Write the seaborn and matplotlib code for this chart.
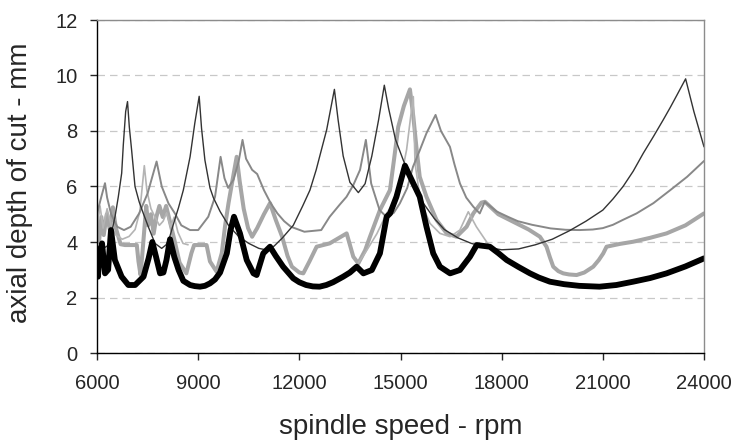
import numpy as np
import pandas as pd
import matplotlib
matplotlib.use("Agg")
import matplotlib.pyplot as plt
import seaborn as sns

sns.set_style('ticks')
plt.rcParams['font.family'] = ['Liberation Sans', 'DejaVu Sans']

# %%
# curve data (spindle speed rpm, axial depth mm)
dark_rpm = [6000, 6150, 6300, 6385, 6534, 6632, 6732, 6780, 6850, 6905, 6958, 7026, 7127, 7250, 7373, 7521,
            7720, 7918, 8050, 8160, 8280, 8420, 8560, 8760, 8900, 9030, 9100, 9200, 9350, 9450, 9650,
            9900, 10200, 10500, 10800, 11000, 11250, 11500, 11820, 12100, 12315, 12500, 12650, 12810,
            13040, 13150, 13300, 13500, 13750, 13950, 14150, 14350, 14520, 14650, 14850, 15082, 15400,
            15675, 16000, 16300, 16700, 17100, 17500, 18000, 18500, 19000, 19500, 20000, 20500, 21000,
            21300, 21600, 21900, 22200, 22500, 22790, 23000, 23200, 23455, 23700, 24000]
dark_depth = [3.85, 3.75, 3.85, 4.07, 4.91, 5.63, 6.48, 7.5, 8.7, 9.06, 8.15, 7.32, 6.0, 5.45, 5.03, 4.55,
              3.95, 3.77, 3.9, 4.2, 4.7, 5.25, 5.87, 7.07, 8.28, 9.25, 8.1, 6.95, 5.95, 5.6, 5.1,
              4.6, 4.2, 3.95, 3.77, 3.72, 3.85, 4.15, 4.6, 5.3, 5.87, 6.6, 7.3, 8.04,
              9.5, 8.4, 7.1, 6.15, 5.78, 6.1, 7.1, 8.4, 9.65, 8.8, 7.7, 6.95, 6.1,
              5.4, 4.85, 4.45, 4.15, 3.95, 3.82, 3.72, 3.75, 3.9, 4.1, 4.4, 4.75, 5.15,
              5.55, 6.0, 6.55, 7.2, 7.8, 8.4, 8.85, 9.3, 9.88, 8.7, 7.43]

mid_rpm = [6000, 6100, 6237, 6300, 6420, 6600, 6800, 7000, 7250, 7500, 7767, 7920, 8120, 8310, 8500, 8760,
           9000, 9300, 9500, 9665, 9780, 9890, 10050, 10200, 10315, 10420, 10600, 10750, 10950, 11150,
           11350, 11550, 11750, 12150, 12650, 12900, 13200, 13400, 13600, 13800, 13973, 14130, 14380,
           14580, 14800, 14980, 15200, 15370, 15570, 15770, 16040, 16200, 16466, 16600, 16763, 16950,
           17160, 17350, 17500, 17850, 18200, 18480, 18900, 19450, 19900, 20300, 20700, 21000, 21300,
           21600, 22000, 22500, 23000, 23500, 24000]
mid_depth = [5.0, 5.5, 6.12, 5.6, 5.0, 4.55, 4.43, 4.55, 5.03, 5.75, 6.9, 6.0, 5.39, 5.03, 4.6, 4.43,
             4.43, 4.91, 5.63, 7.07, 6.3, 5.95, 6.25, 6.9, 7.68, 7.0, 6.6, 6.45, 5.87, 5.4,
             5.03, 4.75, 4.55, 4.37, 4.43, 4.91, 5.35, 5.63, 6.05, 6.6, 7.68, 6.11, 5.15,
             4.91, 5.05, 5.39, 5.95, 6.71, 7.3, 7.92, 8.58, 8.0, 7.43, 6.8, 6.11, 5.6,
             5.27, 5.03, 5.45, 5.1, 4.9, 4.75, 4.62, 4.49, 4.44, 4.43, 4.45, 4.5, 4.62,
             4.8, 5.03, 5.4, 5.87, 6.35, 6.92]

light_rpm = [6000, 6060, 6130, 6200, 6290, 6380, 6470, 6560, 6700, 6830, 7180, 7230, 7290, 7340, 7400,
             7460, 7520, 7600, 7680, 7760, 7850, 7950, 8050, 8150, 8300, 8450, 8650, 8800, 8880, 9250,
             9350, 9546, 9700, 9800, 9900, 10000, 10142, 10230, 10350, 10480, 10600, 10750, 10950,
             11130, 11300, 11490, 11650, 11780, 12000, 12117, 12300, 12513, 12900, 13403, 13600,
             13748, 13950, 14095, 14390, 14687, 14800, 14933, 15100, 15280, 15380, 15480, 15570,
             15770, 16070, 16370, 16660, 16960, 17160, 17400, 17504, 17900, 18440, 18800, 19135,
             19330, 19430, 19530, 19680, 19825, 20000, 20222, 20450, 20715, 20880, 21012, 21110,
             21500, 21900, 22400, 22890, 23450, 24000]
light_depth = [4.8, 4.0, 4.9, 4.25, 5.0, 4.45, 5.25, 4.5, 3.92, 3.89, 3.89, 3.3, 2.82, 3.5, 4.4,
               5.3, 4.6, 5.0, 4.3, 4.9, 5.3, 4.9, 5.3, 4.8, 4.05, 3.25, 2.87, 3.6, 3.89, 3.89,
               3.3, 2.93, 3.6, 4.6, 5.4, 6.1, 7.07, 6.2, 5.2, 4.5, 4.19, 4.5, 5.0,
               5.4, 4.8, 4.19, 3.5, 3.11, 2.9, 2.87, 3.3, 3.83, 3.95, 4.31, 3.47,
               3.23, 3.7, 4.19, 5.15, 5.87, 6.9, 8.15, 8.9, 9.5, 8.52, 7.32, 6.35,
               5.63, 4.79, 4.31, 4.19, 4.55, 5.03, 5.42, 5.45, 5.0, 4.67, 4.45, 4.19,
               3.83, 3.45, 3.11, 2.95, 2.87, 2.83, 2.81, 2.9, 3.11, 3.35, 3.59, 3.83,
               3.93, 4.01, 4.15, 4.31, 4.6, 5.03]

pale1_rpm = [6000, 6090, 6180, 6300, 6420, 6560, 6750, 6950, 7130, 7270, 7403, 7480, 7600, 7720, 7850,
             7960, 8064, 8180, 8290, 8400, 8550, 8700]
pale1_depth = [4.5, 5.3, 4.5, 5.2, 4.6, 4.25, 4.1, 4.2, 4.45, 5.1, 6.75, 5.85, 5.2, 4.9, 4.6,
               4.75, 5.05, 4.55, 4.9, 4.35, 3.95, 3.9]

pale2_rpm = [13750, 14000, 14300, 14587, 14785, 14984, 15180, 15300, 15380, 15430, 15530, 15625, 15875,
             16170, 16470, 16760, 17010, 17250, 17450, 17650]
pale2_depth = [3.25, 3.7, 4.3, 5.03, 5.39, 6.11, 7.32, 8.5, 9.24, 6.84, 6.0, 5.39, 4.67,
               4.31, 4.19, 4.43, 5.09, 4.55, 4.19, 3.83]

black_rpm = [6000, 6030, 6070, 6150, 6237, 6330, 6415, 6530, 6730, 6930, 7130, 7380, 7530, 7640, 7750,
             7870, 7970, 8060, 8165, 8290, 8420, 8560, 8760, 8900, 9054, 9200, 9350, 9500, 9650, 9850,
             9960, 10062, 10240, 10440, 10640, 10734, 10930, 11130, 11300, 11520, 11820, 12000, 12200,
             12400, 12600, 12800, 13000, 13300, 13500, 13700, 13900, 14150, 14390, 14590, 14690, 14880,
             15132, 15380, 15570, 15770, 15970, 16170, 16470, 16760, 17060, 17260, 17650, 17900, 18150,
             18500, 18840, 19100, 19430, 19850, 20300, 20900, 21400, 21900, 22400, 22890, 23450, 24000]
black_depth = [3.47, 2.75, 3.6, 3.95, 2.87, 3.0, 4.43, 3.35, 2.75, 2.45, 2.45, 2.75, 3.41, 4.0, 3.47,
               2.87, 2.9, 3.35, 4.1, 3.47, 2.99, 2.6, 2.45, 2.41, 2.39, 2.42, 2.51, 2.65, 2.9, 3.59,
               4.43, 4.91, 4.31, 3.35, 2.87, 2.81, 3.59, 3.83, 3.5, 3.11, 2.69, 2.55, 2.45,
               2.4, 2.39, 2.45, 2.55, 2.75, 2.9, 3.11, 2.87, 2.99, 3.59, 4.91, 5.03, 5.63,
               6.75, 6.11, 5.63, 4.55, 3.59, 3.11, 2.87, 2.99, 3.47, 3.89, 3.83, 3.6, 3.35,
               3.1, 2.87, 2.72, 2.57, 2.48, 2.42, 2.39, 2.45, 2.57, 2.7, 2.87, 3.12, 3.41]

x_ticks = [6000, 9000, 12000, 15000, 18000, 21000, 24000]
y_ticks = [0, 2, 4, 6, 8, 10, 12]

# %%
fig = plt.figure(figsize=(7.39, 4.44), dpi=100)
ax = fig.add_axes([97 / 739, 1 - 353 / 444, 607 / 739, 333 / 444])

curves = [
    (light_rpm, light_depth, "#a6a6a6", 2.9),
    (pale1_rpm, pale1_depth, "#b4b4b4", 1.2),
    (pale2_rpm, pale2_depth, "#b4b4b4", 1.2),
    (mid_rpm, mid_depth, "#888888", 1.4),
    (dark_rpm, dark_depth, "#333333", 1.0),
    (black_rpm, black_depth, "#000000", 4.2),
]
for xs, ys, color, lw in curves:
    df = pd.DataFrame({"rpm": xs, "depth": ys})
    sns.lineplot(data=df, x="rpm", y="depth", sort=False, estimator=None,
                 color=color, lw=lw, ax=ax, solid_joinstyle="round")

ax.set_xlim(6000, 24000)
ax.set_ylim(0, 12)
ax.set_xticks(x_ticks)
ax.set_yticks(y_ticks)
ax.yaxis.grid(True, ls=(0, (6, 4)), color="#c8c8c8", lw=0.9)
ax.set_axisbelow(True)

for side in ["top", "right"]:
    ax.spines[side].set_color("#8c8c8c")
    ax.spines[side].set_linewidth(1.0)
for side in ["left", "bottom"]:
    ax.spines[side].set_color("#000000")
    ax.spines[side].set_linewidth(1.0)

ax.tick_params(axis="both", direction="out", length=5, width=1, labelsize=14.5)
ax.tick_params(axis="x", pad=10)
ax.tick_params(axis="y", pad=9)

ax.set_xlabel("spindle speed - rpm", fontsize=20, va="center")
ax.xaxis.set_label_coords(0.5, (353 - 427) / 333)
ax.set_ylabel("axial depth of cut - mm", fontsize=20, va="center", ha="center")
ax.yaxis.set_label_coords(-0.127, 0.51)

fig.savefig("out.png", dpi=100)
